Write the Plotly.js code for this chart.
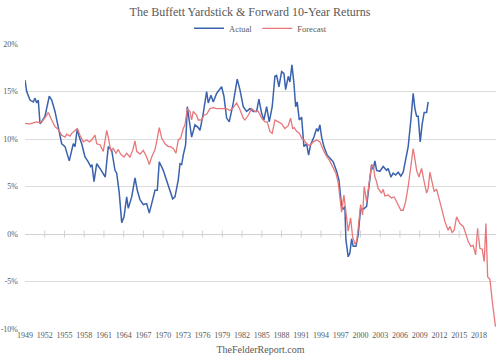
<!DOCTYPE html>
<html>
<head>
<meta charset="utf-8">
<script src="https://cdn.plot.ly/plotly-3.0.1.min.js"></script>
<style>html,body{margin:0;padding:0;background:#fff;}#chart{width:500px;height:362px;}</style>
</head>
<body>
<div id="chart"></div>
<script>
// Actual forward 10-year returns (%), by decimal year
const actualYears = [1949.0,1949.26,1949.76,1950.26,1950.52,1950.78,1951.02,1951.28,1951.54,1952.04,1952.69,1953.06,1953.56,1954.06,1954.58,1955.08,1955.34,1955.73,1956.10,1956.34,1956.60,1956.95,1957.25,1957.62,1958.12,1958.62,1958.98,1959.18,1959.49,1959.90,1960.40,1960.90,1961.20,1961.66,1962.18,1962.68,1962.94,1963.33,1963.70,1964.05,1964.46,1964.70,1965.22,1965.72,1966.07,1966.48,1966.98,1967.50,1967.89,1968.26,1968.76,1969.11,1969.41,1970.02,1970.53,1971.14,1971.45,1971.80,1972.30,1972.56,1972.81,1973.06,1973.42,1973.67,1974.33,1974.84,1975.34,1975.60,1976.10,1976.61,1976.86,1977.27,1977.62,1978.13,1978.89,1979.24,1979.65,1980.05,1980.66,1981.26,1981.67,1982.18,1982.69,1983.19,1983.70,1984.21,1984.56,1984.97,1985.32,1985.73,1986.13,1986.58,1986.99,1987.25,1987.60,1988.01,1988.36,1988.62,1989.02,1989.27,1989.58,1989.88,1990.14,1990.38,1990.69,1991.05,1991.40,1991.81,1992.11,1992.42,1992.92,1993.33,1993.57,1993.83,1994.09,1994.44,1994.94,1995.35,1995.85,1996.37,1996.72,1997.13,1997.37,1997.63,1997.78,1998.13,1998.39,1998.65,1998.89,1999.30,1999.65,2000.02,2000.41,2000.93,2001.28,2001.69,2001.93,2002.19,2002.45,2002.95,2003.45,2003.97,2004.21,2004.62,2004.97,2005.34,2005.73,2006.14,2006.49,2006.86,2007.25,2007.66,2008.01,2008.27,2008.53,2008.77,2009.08,2009.38,2009.68,2010.05,2010.29];
const actualValues = [16.2,15.0,14.1,13.9,14.3,13.8,14.1,11.6,11.8,12.4,14.5,14.1,12.9,11.2,9.5,9.2,8.5,7.7,8.8,9.5,9.2,11.1,10.2,9.5,8.1,7.6,7.1,7.3,5.5,7.4,6.9,6.4,6.0,9.2,8.8,6.7,6.4,4.3,1.2,1.8,3.9,2.7,3.9,5.9,4.6,3.6,3.1,3.2,2.2,3.2,4.6,4.6,7.6,6.7,5.7,4.3,3.7,3.9,5.7,7.4,7.3,8.3,9.4,13.4,10.2,11.5,11.2,10.9,12.7,15.0,13.8,14.6,13.9,14.8,15.5,14.5,12.2,11.8,13.8,16.3,15.2,13.4,12.9,13.2,12.9,12.9,14.2,12.7,12.0,13.4,11.8,13.4,16.6,16.7,15.5,17.1,16.9,15.2,16.6,16.0,17.8,15.9,13.4,13.9,12.0,12.3,9.2,9.5,8.3,9.4,10.2,11.1,10.8,11.5,10.2,9.2,8.3,8.0,7.6,6.6,5.7,2.9,2.6,2.9,-0.6,-2.4,-2.0,-0.5,-1.3,-1.3,-0.1,2.7,2.6,2.9,4.8,7.3,6.8,7.7,6.7,6.6,7.1,6.7,6.9,6.0,6.4,6.2,6.5,6.1,6.5,7.8,9.2,12.0,14.8,13.2,12.4,12.4,9.7,11.6,12.8,12.8,13.9];

// Forecast forward 10-year returns (%), by decimal year
const forecastYears = [1949.0,1949.76,1950.26,1950.78,1951.28,1951.78,1952.30,1952.54,1953.06,1953.56,1954.06,1954.58,1955.08,1955.34,1955.84,1956.10,1956.60,1956.95,1957.36,1957.86,1958.38,1958.77,1959.14,1959.64,1959.90,1960.40,1960.90,1961.42,1961.66,1962.02,1962.42,1962.83,1963.18,1963.54,1964.05,1964.46,1964.96,1965.37,1965.72,1965.98,1966.48,1966.98,1967.50,1967.89,1968.26,1968.76,1969.01,1969.41,1969.78,1970.28,1970.78,1971.14,1971.54,1971.95,1972.30,1972.66,1973.06,1973.32,1973.67,1974.08,1974.33,1974.58,1975.09,1975.34,1975.85,1976.20,1976.61,1977.12,1977.62,1978.13,1978.89,1979.65,1980.16,1980.66,1981.17,1981.67,1982.18,1982.43,1982.94,1983.45,1983.95,1984.46,1984.97,1985.47,1985.82,1986.23,1986.58,1986.99,1987.50,1988.01,1988.51,1989.02,1989.38,1989.68,1989.93,1990.29,1990.69,1991.05,1991.40,1991.81,1992.31,1992.81,1993.33,1993.83,1994.24,1994.74,1995.25,1995.76,1996.26,1996.61,1996.87,1997.13,1997.48,1997.78,1998.13,1998.50,1998.80,1999.16,1999.41,1999.65,2000.02,2000.32,2000.57,2000.93,2001.32,2001.69,2002.00,2002.19,2002.45,2002.69,2003.20,2003.45,2003.71,2004.21,2004.73,2005.12,2005.34,2005.73,2006.14,2006.49,2006.86,2007.25,2007.66,2008.01,2008.27,2008.53,2008.88,2009.29,2009.68,2010.05,2010.29,2010.55,2010.90,2011.20,2011.57,2011.92,2012.33,2012.83,2013.33,2013.59,2013.94,2014.24,2014.61,2015.11,2015.62,2015.97,2016.38,2016.78,2017.13,2017.50,2017.80,2018.15,2018.50,2018.81,2019.07,2019.33,2019.68,2020.01,2020.26,2020.52];
const forecastValues = [11.65,11.6,11.7,11.8,11.7,12.0,12.5,12.8,12.0,11.3,11.0,10.4,10.2,10.5,10.3,10.6,10.9,11.1,10.4,9.7,9.9,9.7,9.9,10.4,9.5,9.4,8.7,10.9,10.2,8.8,9.0,8.5,8.9,8.4,8.1,8.5,8.1,8.8,9.8,8.7,8.4,8.8,8.1,7.3,8.1,8.9,9.7,11.2,10.1,9.5,9.2,9.2,9.0,8.5,9.9,10.1,11.1,11.5,13.2,12.9,12.0,12.9,12.5,12.0,12.0,12.5,12.6,13.2,13.3,13.2,13.2,13.2,13.0,13.3,13.8,13.1,12.2,12.0,12.5,13.2,12.9,12.9,12.2,11.8,11.8,10.8,10.6,12.0,11.8,11.6,11.1,11.4,12.2,11.1,11.2,10.8,10.6,10.1,9.9,9.5,9.3,9.7,9.9,9.7,9.0,8.3,7.8,7.1,6.4,5.4,3.8,2.3,4.1,2.3,0.3,1.7,-0.3,-1.0,-0.8,0.6,3.1,2.0,5.0,3.4,5.5,7.3,7.0,6.0,5.5,4.8,4.3,4.7,4.0,4.1,3.8,3.9,3.6,3.05,2.5,2.5,3.4,5.0,7.1,9.0,7.9,6.7,6.0,6.9,5.5,4.3,4.8,6.5,5.4,4.5,4.7,3.9,2.7,1.3,0.4,0.8,0.15,0.4,1.8,1.1,0.8,0.1,-0.8,-1.3,-1.2,-2.2,0.6,-1.5,-1.6,-2.9,1.1,-4.5,-4.8,-6.95,-8.3,-9.75];

// Axis tick labels
const tickYears = [1949,1952,1955,1958,1961,1964,1967,1970,1973,1976,1979,1982,1985,1988,1991,1994,1997,2000,2003,2006,2009,2012,2015,2018];
const yTicks = [-10,-5,0,5,10,15,20];
const yTickText = ['-10%','-5%','0%','5%','10%','15%','20%'];

const SERIF = '"Liberation Serif", "DejaVu Serif", serif';
const GREY = '#595959';

const traces = [
  {
    x: actualYears, y: actualValues, type: 'scatter', mode: 'lines', name: 'Actual',
    line: {color: '#3a62ad', width: 1.5}, hoverinfo: 'skip'
  },
  {
    x: forecastYears, y: forecastValues, type: 'scatter', mode: 'lines', name: 'Forecast',
    line: {color: '#e8777a', width: 1.3}, hoverinfo: 'skip'
  },
  {
    x: tickYears.slice(1), y: tickYears.slice(1).map(() => 0), type: 'scatter', mode: 'markers',
    marker: {symbol: 'line-ns-open', size: 5, color: '#d0d0d0', line: {width: 1, color: '#d0d0d0'}},
    showlegend: false, hoverinfo: 'skip'
  }
];

const layout = {
  width: 500, height: 362,
  margin: {l: 25, r: 4, t: 44, b: 33},
  paper_bgcolor: '#ffffff', plot_bgcolor: '#ffffff',
  font: {family: SERIF, color: GREY, size: 8},
  title: {
    text: 'The Buffett Yardstick &amp; Forward 10-Year Returns',
    font: {family: SERIF, size: 12, color: GREY},
    x: 0.5, xanchor: 'center', y: 0.968, yanchor: 'middle'
  },
  showlegend: true,
  legend: {
    orientation: 'h', x: 0.5, xanchor: 'center', y: 1.055, yanchor: 'middle',
    font: {family: SERIF, size: 8.5, color: GREY},
    itemwidth: 30, tracegroupgap: 0, bgcolor: 'rgba(0,0,0,0)'
  },
  xaxis: {
    range: [1949, 2020.6],
    tickmode: 'array', tickvals: tickYears, ticktext: tickYears.map(String),
    showgrid: false, zeroline: false, showline: false, ticks: '',
    tickfont: {family: SERIF, size: 8, color: GREY},
    title: {text: 'TheFelderReport.com', font: {family: SERIF, size: 10, color: GREY}, standoff: 6},
    fixedrange: true
  },
  yaxis: {
    range: [-10, 20],
    tickmode: 'array', tickvals: yTicks, ticktext: yTickText,
    showgrid: true, gridcolor: '#dcdcdc', gridwidth: 1,
    zeroline: true, zerolinecolor: '#d0d0d0', zerolinewidth: 1,
    showline: false, ticks: '', ticklabelstandoff: 6,
    tickfont: {family: SERIF, size: 8, color: GREY},
    fixedrange: true
  }
};

Plotly.newPlot('chart', traces, layout, {staticPlot: true, displayModeBar: false});
</script>
</body>
</html>
